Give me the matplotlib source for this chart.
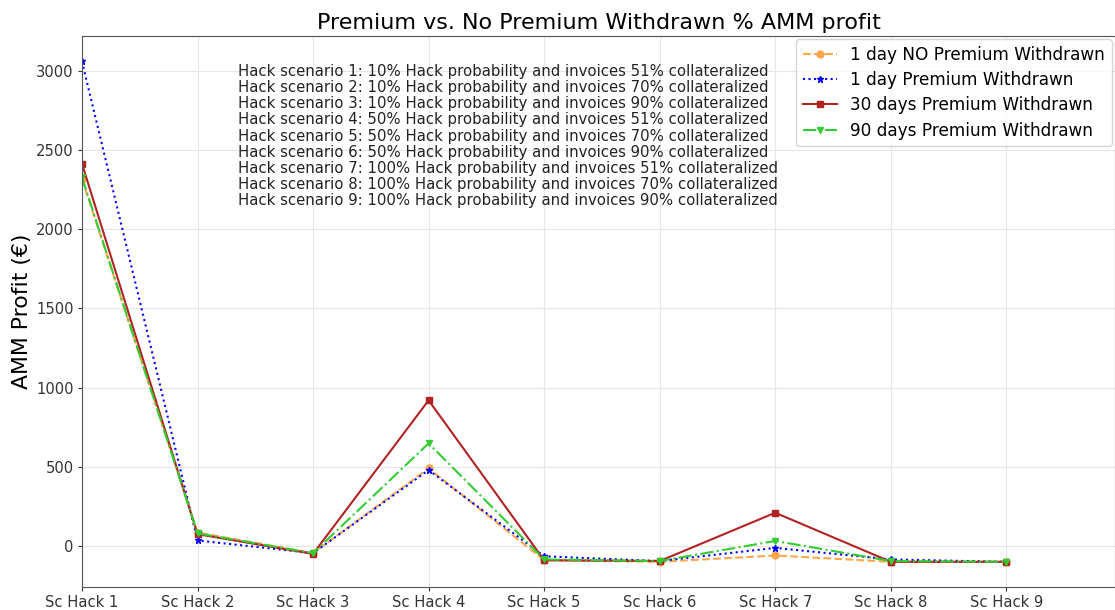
import matplotlib
matplotlib.use('Agg')
import matplotlib.pyplot as plt

scenarios = ['Sc Hack 1', 'Sc Hack 2', 'Sc Hack 3', 'Sc Hack 4', 'Sc Hack 5',
             'Sc Hack 6', 'Sc Hack 7', 'Sc Hack 8', 'Sc Hack 9']

no_premium_1d = [2320, 85, -45, 490, -90, -100, -60, -100, -100]
premium_1d = [3060, 35, -45, 480, -65, -95, -12, -85, -100]
premium_30d = [2415, 75, -50, 920, -90, -95, 210, -100, -100]
premium_90d = [2330, 80, -45, 648, -85, -95, 32, -95, -100]

scenario_notes = [
    'Hack scenario 1: 10% Hack probability and invoices 51% collateralized',
    'Hack scenario 2: 10% Hack probability and invoices 70% collateralized',
    'Hack scenario 3: 10% Hack probability and invoices 90% collateralized',
    'Hack scenario 4: 50% Hack probability and invoices 51% collateralized',
    'Hack scenario 5: 50% Hack probability and invoices 70% collateralized',
    'Hack scenario 6: 50% Hack probability and invoices 90% collateralized',
    'Hack scenario 7: 100% Hack probability and invoices 51% collateralized',
    'Hack scenario 8: 100% Hack probability and invoices 70% collateralized',
    'Hack scenario 9: 100% Hack probability and invoices 90% collateralized',
]

fig = plt.figure(figsize=(11.15, 6.1), dpi=100)
ax = fig.add_axes([0.0735, 0.0377, 0.9265, 0.9033])

x = list(range(len(scenarios)))
ax.plot(x, no_premium_1d, color='#ffa64d', linestyle='--', marker='o', markersize=5,
        linewidth=1.5, label='1 day NO Premium Withdrawn')
ax.plot(x, premium_1d, color='blue', linestyle=':', marker='*', markersize=5,
        linewidth=1.5, label='1 day Premium Withdrawn')
ax.plot(x, premium_30d, color='#b22222', linestyle='-', marker='s', markersize=5,
        linewidth=1.5, label='30 days Premium Withdrawn')
ax.plot(x, premium_90d, color='#32cd32', linestyle='-.', marker='v', markersize=5,
        linewidth=1.5, label='90 days Premium Withdrawn')

ax.set_xticks(x)
ax.set_xticklabels(scenarios)
ax.set_xlim(0, 8.94)
ax.set_ylim(-259, 3221)
ax.grid(True, color='#e6e6e6', linewidth=0.8)
ax.set_axisbelow(True)
ax.tick_params(labelsize=10.6, colors='#333333', length=3, pad=3)
for s in ax.spines.values():
    s.set_color('#555555')

ax.set_title('Premium vs. No Premium Withdrawn % AMM profit', fontsize=16, pad=5)
ax.set_ylabel('AMM Profit (€)', fontsize=15.8, labelpad=3)

ax.text(1.35, 3045, '\n'.join(scenario_notes), fontsize=10.7, color='#222222',
        va='top', ha='left', linespacing=1.1)

ax.legend(loc='upper right', fontsize=12.2, borderaxespad=0.2, labelspacing=0.42)

fig.savefig('out.png', dpi=100)
